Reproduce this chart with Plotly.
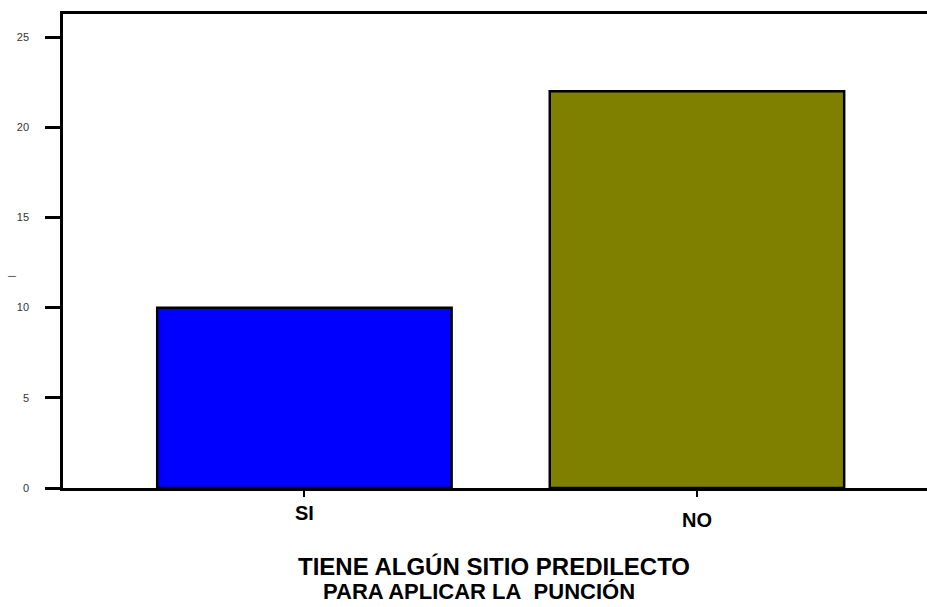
import plotly.graph_objects as go

categories = ["SI", "NO"]
values = [10, 22]
colors = ["#0000FF", "#808000"]
y_ticks = [0, 5, 10, 15, 20, 25]
title_lines = ["TIENE ALGÚN SITIO PREDILECTO", "PARA APLICAR LA&nbsp; PUNCIÓN"]
y_title = "l"

FONT = "Liberation Sans, Arial"

fig = go.Figure()
fig.add_trace(go.Bar(
    x=categories, y=values, width=0.75,
    marker=dict(color=colors, line=dict(color="#000000", width=2.5)),
    showlegend=False,
))

# staggered category labels
label_offsets = [-24.5, -31.5]
for cat, off in zip(categories, label_offsets):
    fig.add_annotation(x=cat, y=0, xref="x", yref="y", text="<b>%s</b>" % cat,
                       showarrow=False, yshift=off, xanchor="center", yanchor="middle",
                       font=dict(family=FONT, size=20, color="#000"))

title_x = [0.4994, 0.4815]
title_y = [-0.1658, -0.2186]
title_sizes = [24, 22]
for txt, tx, ty, ts in zip(title_lines, title_x, title_y, title_sizes):
    fig.add_annotation(x=tx, y=ty, xref="paper", yref="paper",
                       text="<b>" + txt + "</b>", showarrow=False,
                       xanchor="center", yanchor="middle",
                       font=dict(family=FONT, size=ts, color="#000"))

fig.add_annotation(x=-0.0585, y=0.447, xref="paper", yref="paper", text=y_title,
                   textangle=-90, showarrow=False, xanchor="center", yanchor="middle",
                   font=dict(family=FONT, size=10, color="#555"))

fig.update_layout(
    width=927, height=607,
    margin=dict(l=63, r=0, t=14, b=119),
    paper_bgcolor="white", plot_bgcolor="white",
    xaxis=dict(type="category", range=[-0.615, 1.586],
               showline=True, linecolor="#000", linewidth=2.5, mirror=True,
               ticks="outside", ticklen=6, tickwidth=2, tickcolor="#000",
               showticklabels=False, showgrid=False, zeroline=False),
    yaxis=dict(range=[0, 26.28], tickvals=y_ticks,
               showline=True, linecolor="#000", linewidth=2.5,
               ticks="outside", ticklen=15, tickwidth=2.5, tickcolor="#000",
               ticklabelstandoff=14,
               tickfont=dict(family=FONT, size=11, color="#333"),
               showgrid=False, zeroline=False),
)

fig.write_html("out.html", config={"displayModeBar": False},
               post_script="document.body.style.margin='0';document.body.style.overflow='hidden';")
